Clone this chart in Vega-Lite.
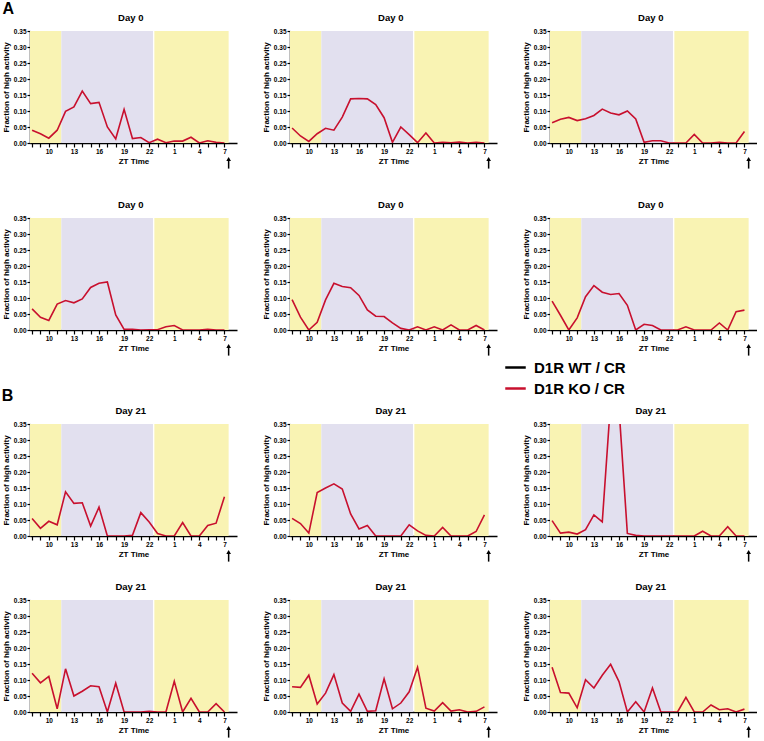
{
"$schema":"https://vega.github.io/schema/vega-lite/v6.json",
"padding":{"left":1,"top":1,"right":0,"bottom":0},
"config":{"view":{"stroke":null},"font":"Liberation Sans",
"axis":{"grid":false,"domainColor":"#000","domainWidth":1.5,"tickColor":"#000","tickWidth":1.2,"labelFont":"Liberation Sans","labelFontSize":6.5,"labelFontWeight":"bold","labelColor":"#000","labelPadding":1,"titleFont":"Liberation Sans","titleFontSize":8,"titleFontWeight":"bold","titleColor":"#000","zindex":1,"titlePadding":3,"labelOverlap":false,"labelFlush":false},
"text":{"font":"Liberation Sans","fontWeight":"bold","color":"#000","align":"center","baseline":"alphabetic"},
"legend":{"orient":"none","legendX":474,"legendY":325,"symbolType":"stroke","symbolSize":420,"symbolStrokeWidth":2.5,"labelFontSize":15,"labelFontWeight":"bold","labelColor":"#000","labelFont":"Liberation Sans","rowPadding":1,"labelOffset":7,"padding":0}},
"datasets":{
"bg":[{"x0":7.75,"x1":11.5,"phase":"light"},{"x0":11.5,"x1":22.45,"phase":"dark"},{"x0":22.62,"x1":31.5,"phase":"light"}],
"act":[
{"p":1,"h":8,"v":0.04},{"p":1,"h":9,"v":0.029},{"p":1,"h":10,"v":0.015},{"p":1,"h":11,"v":0.04},{"p":1,"h":12,"v":0.099},{"p":1,"h":13,"v":0.113},{"p":1,"h":14,"v":0.162},{"p":1,"h":15,"v":0.123},{"p":1,"h":16,"v":0.127},{"p":1,"h":17,"v":0.05},{"p":1,"h":18,"v":0.013},{"p":1,"h":19,"v":0.105},{"p":1,"h":20,"v":0.014},{"p":1,"h":21,"v":0.017},{"p":1,"h":22,"v":0.001},{"p":1,"h":23,"v":0.012},{"p":1,"h":24,"v":0.001},{"p":1,"h":25,"v":0.006},{"p":1,"h":26,"v":0.006},{"p":1,"h":27,"v":0.018},{"p":1,"h":28,"v":0},{"p":1,"h":29,"v":0.007},{"p":1,"h":30,"v":0.002},{"p":1,"h":31,"v":0},
{"p":2,"h":8,"v":0.047},{"p":2,"h":9,"v":0.022},{"p":2,"h":10,"v":0.005},{"p":2,"h":11,"v":0.029},{"p":2,"h":12,"v":0.046},{"p":2,"h":13,"v":0.04},{"p":2,"h":14,"v":0.081},{"p":2,"h":15,"v":0.138},{"p":2,"h":16,"v":0.139},{"p":2,"h":17,"v":0.138},{"p":2,"h":18,"v":0.12},{"p":2,"h":19,"v":0.079},{"p":2,"h":20,"v":0.002},{"p":2,"h":21,"v":0.05},{"p":2,"h":22,"v":0.026},{"p":2,"h":23,"v":0.001},{"p":2,"h":24,"v":0.031},{"p":2,"h":25,"v":0},{"p":2,"h":26,"v":0.002},{"p":2,"h":27,"v":0.001},{"p":2,"h":28,"v":0.003},{"p":2,"h":29,"v":0},{"p":2,"h":30,"v":0.002},{"p":2,"h":31,"v":0},
{"p":3,"h":8,"v":0.063},{"p":3,"h":9,"v":0.074},{"p":3,"h":10,"v":0.08},{"p":3,"h":11,"v":0.07},{"p":3,"h":12,"v":0.076},{"p":3,"h":13,"v":0.086},{"p":3,"h":14,"v":0.106},{"p":3,"h":15,"v":0.094},{"p":3,"h":16,"v":0.088},{"p":3,"h":17,"v":0.1},{"p":3,"h":18,"v":0.075},{"p":3,"h":19,"v":0.002},{"p":3,"h":20,"v":0.007},{"p":3,"h":21,"v":0.007},{"p":3,"h":22,"v":0},{"p":3,"h":23,"v":0},{"p":3,"h":24,"v":0},{"p":3,"h":25,"v":0.027},{"p":3,"h":26,"v":0},{"p":3,"h":27,"v":0},{"p":3,"h":28,"v":0.002},{"p":3,"h":29,"v":0},{"p":3,"h":30,"v":0},{"p":3,"h":31,"v":0.036},
{"p":4,"h":8,"v":0.066},{"p":4,"h":9,"v":0.04},{"p":4,"h":10,"v":0.03},{"p":4,"h":11,"v":0.081},{"p":4,"h":12,"v":0.092},{"p":4,"h":13,"v":0.085},{"p":4,"h":14,"v":0.097},{"p":4,"h":15,"v":0.133},{"p":4,"h":16,"v":0.146},{"p":4,"h":17,"v":0.15},{"p":4,"h":18,"v":0.047},{"p":4,"h":19,"v":0.002},{"p":4,"h":20,"v":0.002},{"p":4,"h":21,"v":0},{"p":4,"h":22,"v":0.001},{"p":4,"h":23,"v":0.001},{"p":4,"h":24,"v":0.01},{"p":4,"h":25,"v":0.014},{"p":4,"h":26,"v":0},{"p":4,"h":27,"v":0},{"p":4,"h":28,"v":0},{"p":4,"h":29,"v":0.002},{"p":4,"h":30,"v":0},{"p":4,"h":31,"v":0},
{"p":5,"h":8,"v":0.095},{"p":5,"h":9,"v":0.04},{"p":5,"h":10,"v":0},{"p":5,"h":11,"v":0.024},{"p":5,"h":12,"v":0.094},{"p":5,"h":13,"v":0.146},{"p":5,"h":14,"v":0.136},{"p":5,"h":15,"v":0.132},{"p":5,"h":16,"v":0.108},{"p":5,"h":17,"v":0.063},{"p":5,"h":18,"v":0.043},{"p":5,"h":19,"v":0.042},{"p":5,"h":20,"v":0.022},{"p":5,"h":21,"v":0.005},{"p":5,"h":22,"v":0},{"p":5,"h":23,"v":0.01},{"p":5,"h":24,"v":0},{"p":5,"h":25,"v":0.01},{"p":5,"h":26,"v":0},{"p":5,"h":27,"v":0.016},{"p":5,"h":28,"v":0},{"p":5,"h":29,"v":0},{"p":5,"h":30,"v":0.014},{"p":5,"h":31,"v":0},
{"p":6,"h":8,"v":0.09},{"p":6,"h":9,"v":0.046},{"p":6,"h":10,"v":0},{"p":6,"h":11,"v":0.038},{"p":6,"h":12,"v":0.104},{"p":6,"h":13,"v":0.139},{"p":6,"h":14,"v":0.118},{"p":6,"h":15,"v":0.111},{"p":6,"h":16,"v":0.114},{"p":6,"h":17,"v":0.077},{"p":6,"h":18,"v":0},{"p":6,"h":19,"v":0.018},{"p":6,"h":20,"v":0.014},{"p":6,"h":21,"v":0},{"p":6,"h":22,"v":0},{"p":6,"h":23,"v":0},{"p":6,"h":24,"v":0.01},{"p":6,"h":25,"v":0},{"p":6,"h":26,"v":0},{"p":6,"h":27,"v":0},{"p":6,"h":28,"v":0.022},{"p":6,"h":29,"v":0},{"p":6,"h":30,"v":0.057},{"p":6,"h":31,"v":0.062},
{"p":7,"h":8,"v":0.055},{"p":7,"h":9,"v":0.024},{"p":7,"h":10,"v":0.046},{"p":7,"h":11,"v":0.035},{"p":7,"h":12,"v":0.138},{"p":7,"h":13,"v":0.102},{"p":7,"h":14,"v":0.104},{"p":7,"h":15,"v":0.031},{"p":7,"h":16,"v":0.09},{"p":7,"h":17,"v":0},{"p":7,"h":18,"v":0},{"p":7,"h":19,"v":0},{"p":7,"h":20,"v":0.002},{"p":7,"h":21,"v":0.073},{"p":7,"h":22,"v":0.044},{"p":7,"h":23,"v":0.008},{"p":7,"h":24,"v":0},{"p":7,"h":25,"v":0},{"p":7,"h":26,"v":0.042},{"p":7,"h":27,"v":0},{"p":7,"h":28,"v":0},{"p":7,"h":29,"v":0.033},{"p":7,"h":30,"v":0.04},{"p":7,"h":31,"v":0.123},
{"p":8,"h":8,"v":0.055},{"p":8,"h":9,"v":0.039},{"p":8,"h":10,"v":0.009},{"p":8,"h":11,"v":0.136},{"p":8,"h":12,"v":0.15},{"p":8,"h":13,"v":0.163},{"p":8,"h":14,"v":0.147},{"p":8,"h":15,"v":0.069},{"p":8,"h":16,"v":0.022},{"p":8,"h":17,"v":0.033},{"p":8,"h":18,"v":0},{"p":8,"h":19,"v":0},{"p":8,"h":20,"v":0},{"p":8,"h":21,"v":0},{"p":8,"h":22,"v":0.035},{"p":8,"h":23,"v":0.016},{"p":8,"h":24,"v":0.002},{"p":8,"h":25,"v":0},{"p":8,"h":26,"v":0.027},{"p":8,"h":27,"v":0},{"p":8,"h":28,"v":0},{"p":8,"h":29,"v":0},{"p":8,"h":30,"v":0.014},{"p":8,"h":31,"v":0.066},
{"p":9,"h":8,"v":0.048},{"p":9,"h":9,"v":0.009},{"p":9,"h":10,"v":0.012},{"p":9,"h":11,"v":0.006},{"p":9,"h":12,"v":0.02},{"p":9,"h":13,"v":0.066},{"p":9,"h":14,"v":0.044},{"p":9,"h":15,"v":0.42},{"p":9,"h":16,"v":0.4},{"p":9,"h":17,"v":0.008},{"p":9,"h":18,"v":0.002},{"p":9,"h":19,"v":0},{"p":9,"h":20,"v":0},{"p":9,"h":21,"v":0},{"p":9,"h":22,"v":0},{"p":9,"h":23,"v":0},{"p":9,"h":24,"v":0},{"p":9,"h":25,"v":0},{"p":9,"h":26,"v":0.015},{"p":9,"h":27,"v":0},{"p":9,"h":28,"v":0},{"p":9,"h":29,"v":0.029},{"p":9,"h":30,"v":0},{"p":9,"h":31,"v":0},
{"p":10,"h":8,"v":0.121},{"p":10,"h":9,"v":0.091},{"p":10,"h":10,"v":0.111},{"p":10,"h":11,"v":0.01},{"p":10,"h":12,"v":0.135},{"p":10,"h":13,"v":0.05},{"p":10,"h":14,"v":0.065},{"p":10,"h":15,"v":0.082},{"p":10,"h":16,"v":0.079},{"p":10,"h":17,"v":0},{"p":10,"h":18,"v":0.09},{"p":10,"h":19,"v":0},{"p":10,"h":20,"v":0},{"p":10,"h":21,"v":0},{"p":10,"h":22,"v":0.002},{"p":10,"h":23,"v":0},{"p":10,"h":24,"v":0},{"p":10,"h":25,"v":0.096},{"p":10,"h":26,"v":0},{"p":10,"h":27,"v":0.043},{"p":10,"h":28,"v":0},{"p":10,"h":29,"v":0},{"p":10,"h":30,"v":0.026},{"p":10,"h":31,"v":0},
{"p":11,"h":8,"v":0.079},{"p":11,"h":9,"v":0.077},{"p":11,"h":10,"v":0.115},{"p":11,"h":11,"v":0.025},{"p":11,"h":12,"v":0.059},{"p":11,"h":13,"v":0.117},{"p":11,"h":14,"v":0.028},{"p":11,"h":15,"v":0.002},{"p":11,"h":16,"v":0.056},{"p":11,"h":17,"v":0.002},{"p":11,"h":18,"v":0.004},{"p":11,"h":19,"v":0.104},{"p":11,"h":20,"v":0.01},{"p":11,"h":21,"v":0.028},{"p":11,"h":22,"v":0.063},{"p":11,"h":23,"v":0.14},{"p":11,"h":24,"v":0.012},{"p":11,"h":25,"v":0.003},{"p":11,"h":26,"v":0.029},{"p":11,"h":27,"v":0.003},{"p":11,"h":28,"v":0.007},{"p":11,"h":29,"v":0},{"p":11,"h":30,"v":0.002},{"p":11,"h":31,"v":0.016},
{"p":12,"h":8,"v":0.14},{"p":12,"h":9,"v":0.061},{"p":12,"h":10,"v":0.059},{"p":12,"h":11,"v":0.013},{"p":12,"h":12,"v":0.101},{"p":12,"h":13,"v":0.075},{"p":12,"h":14,"v":0.115},{"p":12,"h":15,"v":0.149},{"p":12,"h":16,"v":0.095},{"p":12,"h":17,"v":0},{"p":12,"h":18,"v":0.032},{"p":12,"h":19,"v":0},{"p":12,"h":20,"v":0.075},{"p":12,"h":21,"v":0},{"p":12,"h":22,"v":0},{"p":12,"h":23,"v":0},{"p":12,"h":24,"v":0.046},{"p":12,"h":25,"v":0},{"p":12,"h":26,"v":0},{"p":12,"h":27,"v":0.022},{"p":12,"h":28,"v":0.007},{"p":12,"h":29,"v":0.01},{"p":12,"h":30,"v":0},{"p":12,"h":31,"v":0.009}
]},
"spacing":31,
"vconcat":[
{"spacing":29,"vconcat":[
{"spacing":53,"bounds":"flush","hconcat":[
{"width":207,"height":112,"resolve":{"axis":{"x":"independent","y":"independent"}},"layer":[
{"data":{"name":"bg"},"mark":"rect","encoding":{"x":{"field":"x0","type":"quantitative","axis":null},"x2":{"field":"x1"},"y":{"datum":0,"type":"quantitative","axis":null},"y2":{"datum":0.35},"fill":{"field":"phase","type":"nominal","scale":{"domain":["light","dark"],"range":["#f9f3b3","#e2e0ef"]},"legend":null}}},
{"data":{"name":"act"},"transform":[{"filter":"datum.p==1"}],"mark":{"type":"line","clip":true,"strokeWidth":1.6},"encoding":{"x":{"field":"h","type":"quantitative","scale":{"domain":[7.75,32.5],"nice":false,"zero":false},"axis":{"orient":"bottom","values":[8,9,10,11,12,13,14,15,16,17,18,19,20,21,22,23,24,25,26,27,28,29,30,31],"labelExpr":"(datum.value-10)%3==0 ? ''+(datum.value%24) : ''","title":"ZT Time","tickSize":4}},"y":{"field":"v","type":"quantitative","scale":{"domain":[0,0.35],"nice":false},"axis":{"orient":"left","values":[0,0.05,0.1,0.15,0.2,0.25,0.3,0.35],"format":".2f","title":"Fraction of high activity","tickSize":3}},"color":{"datum":"D1R KO / CR","type":"nominal","scale":{"domain":["D1R WT / CR","D1R KO / CR"],"range":["#000000","#c8102e"]},"legend":{"title":null}}}},
{"data":{"values":[{}]},"mark":{"type":"rule","color":"#000","strokeWidth":1.5},"encoding":{"x":{"datum":31.5,"type":"quantitative","axis":null},"y":{"datum":-0.052,"type":"quantitative","axis":null},"y2":{"datum":-0.08}}},
{"data":{"values":[{}]},"mark":{"type":"point","shape":"triangle-up","filled":true,"size":22,"color":"#000","opacity":1},"encoding":{"x":{"datum":31.5,"type":"quantitative","axis":null},"y":{"datum":-0.05,"type":"quantitative","axis":null}}},
{"data":{"values":[{}]},"mark":{"type":"text","text":"Day 0","fontSize":9.5},"encoding":{"x":{"datum":19.8,"type":"quantitative","axis":null},"y":{"datum":0.382,"type":"quantitative","axis":null}}},
{"data":{"values":[{}]},"mark":{"type":"text","text":"A","fontSize":16},"encoding":{"x":{"datum":5.15,"type":"quantitative","axis":null},"y":{"datum":0.403,"type":"quantitative","axis":null}}}
]},
{"width":207,"height":112,"resolve":{"axis":{"x":"independent","y":"independent"}},"layer":[
{"data":{"name":"bg"},"mark":"rect","encoding":{"x":{"field":"x0","type":"quantitative","axis":null},"x2":{"field":"x1"},"y":{"datum":0,"type":"quantitative","axis":null},"y2":{"datum":0.35},"fill":{"field":"phase","type":"nominal","scale":{"domain":["light","dark"],"range":["#f9f3b3","#e2e0ef"]},"legend":null}}},
{"data":{"name":"act"},"transform":[{"filter":"datum.p==2"}],"mark":{"type":"line","clip":true,"strokeWidth":1.6},"encoding":{"x":{"field":"h","type":"quantitative","scale":{"domain":[7.75,32.5],"nice":false,"zero":false},"axis":{"orient":"bottom","values":[8,9,10,11,12,13,14,15,16,17,18,19,20,21,22,23,24,25,26,27,28,29,30,31],"labelExpr":"(datum.value-10)%3==0 ? ''+(datum.value%24) : ''","title":"ZT Time","tickSize":4}},"y":{"field":"v","type":"quantitative","scale":{"domain":[0,0.35],"nice":false},"axis":{"orient":"left","values":[0,0.05,0.1,0.15,0.2,0.25,0.3,0.35],"format":".2f","title":"Fraction of high activity","tickSize":3}},"color":{"datum":"D1R KO / CR","type":"nominal","scale":{"domain":["D1R WT / CR","D1R KO / CR"],"range":["#000000","#c8102e"]},"legend":{"title":null}}}},
{"data":{"values":[{}]},"mark":{"type":"rule","color":"#000","strokeWidth":1.5},"encoding":{"x":{"datum":31.5,"type":"quantitative","axis":null},"y":{"datum":-0.052,"type":"quantitative","axis":null},"y2":{"datum":-0.08}}},
{"data":{"values":[{}]},"mark":{"type":"point","shape":"triangle-up","filled":true,"size":22,"color":"#000","opacity":1},"encoding":{"x":{"datum":31.5,"type":"quantitative","axis":null},"y":{"datum":-0.05,"type":"quantitative","axis":null}}},
{"data":{"values":[{}]},"mark":{"type":"text","text":"Day 0","fontSize":9.5},"encoding":{"x":{"datum":19.8,"type":"quantitative","axis":null},"y":{"datum":0.382,"type":"quantitative","axis":null}}}
]},
{"width":207,"height":112,"resolve":{"axis":{"x":"independent","y":"independent"}},"layer":[
{"data":{"name":"bg"},"mark":"rect","encoding":{"x":{"field":"x0","type":"quantitative","axis":null},"x2":{"field":"x1"},"y":{"datum":0,"type":"quantitative","axis":null},"y2":{"datum":0.35},"fill":{"field":"phase","type":"nominal","scale":{"domain":["light","dark"],"range":["#f9f3b3","#e2e0ef"]},"legend":null}}},
{"data":{"name":"act"},"transform":[{"filter":"datum.p==3"}],"mark":{"type":"line","clip":true,"strokeWidth":1.6},"encoding":{"x":{"field":"h","type":"quantitative","scale":{"domain":[7.75,32.5],"nice":false,"zero":false},"axis":{"orient":"bottom","values":[8,9,10,11,12,13,14,15,16,17,18,19,20,21,22,23,24,25,26,27,28,29,30,31],"labelExpr":"(datum.value-10)%3==0 ? ''+(datum.value%24) : ''","title":"ZT Time","tickSize":4}},"y":{"field":"v","type":"quantitative","scale":{"domain":[0,0.35],"nice":false},"axis":{"orient":"left","values":[0,0.05,0.1,0.15,0.2,0.25,0.3,0.35],"format":".2f","title":"Fraction of high activity","tickSize":3}},"color":{"datum":"D1R KO / CR","type":"nominal","scale":{"domain":["D1R WT / CR","D1R KO / CR"],"range":["#000000","#c8102e"]},"legend":{"title":null}}}},
{"data":{"values":[{}]},"mark":{"type":"rule","color":"#000","strokeWidth":1.5},"encoding":{"x":{"datum":31.5,"type":"quantitative","axis":null},"y":{"datum":-0.052,"type":"quantitative","axis":null},"y2":{"datum":-0.08}}},
{"data":{"values":[{}]},"mark":{"type":"point","shape":"triangle-up","filled":true,"size":22,"color":"#000","opacity":1},"encoding":{"x":{"datum":31.5,"type":"quantitative","axis":null},"y":{"datum":-0.05,"type":"quantitative","axis":null}}},
{"data":{"values":[{}]},"mark":{"type":"text","text":"Day 0","fontSize":9.5},"encoding":{"x":{"datum":19.8,"type":"quantitative","axis":null},"y":{"datum":0.382,"type":"quantitative","axis":null}}}
]}
]},
{"spacing":53,"bounds":"flush","hconcat":[
{"width":207,"height":112,"resolve":{"axis":{"x":"independent","y":"independent"}},"layer":[
{"data":{"name":"bg"},"mark":"rect","encoding":{"x":{"field":"x0","type":"quantitative","axis":null},"x2":{"field":"x1"},"y":{"datum":0,"type":"quantitative","axis":null},"y2":{"datum":0.35},"fill":{"field":"phase","type":"nominal","scale":{"domain":["light","dark"],"range":["#f9f3b3","#e2e0ef"]},"legend":null}}},
{"data":{"name":"act"},"transform":[{"filter":"datum.p==4"}],"mark":{"type":"line","clip":true,"strokeWidth":1.6},"encoding":{"x":{"field":"h","type":"quantitative","scale":{"domain":[7.75,32.5],"nice":false,"zero":false},"axis":{"orient":"bottom","values":[8,9,10,11,12,13,14,15,16,17,18,19,20,21,22,23,24,25,26,27,28,29,30,31],"labelExpr":"(datum.value-10)%3==0 ? ''+(datum.value%24) : ''","title":"ZT Time","tickSize":4}},"y":{"field":"v","type":"quantitative","scale":{"domain":[0,0.35],"nice":false},"axis":{"orient":"left","values":[0,0.05,0.1,0.15,0.2,0.25,0.3,0.35],"format":".2f","title":"Fraction of high activity","tickSize":3}},"color":{"datum":"D1R KO / CR","type":"nominal","scale":{"domain":["D1R WT / CR","D1R KO / CR"],"range":["#000000","#c8102e"]},"legend":{"title":null}}}},
{"data":{"values":[{}]},"mark":{"type":"rule","color":"#000","strokeWidth":1.5},"encoding":{"x":{"datum":31.5,"type":"quantitative","axis":null},"y":{"datum":-0.052,"type":"quantitative","axis":null},"y2":{"datum":-0.08}}},
{"data":{"values":[{}]},"mark":{"type":"point","shape":"triangle-up","filled":true,"size":22,"color":"#000","opacity":1},"encoding":{"x":{"datum":31.5,"type":"quantitative","axis":null},"y":{"datum":-0.05,"type":"quantitative","axis":null}}},
{"data":{"values":[{}]},"mark":{"type":"text","text":"Day 0","fontSize":9.5},"encoding":{"x":{"datum":19.8,"type":"quantitative","axis":null},"y":{"datum":0.382,"type":"quantitative","axis":null}}}
]},
{"width":207,"height":112,"resolve":{"axis":{"x":"independent","y":"independent"}},"layer":[
{"data":{"name":"bg"},"mark":"rect","encoding":{"x":{"field":"x0","type":"quantitative","axis":null},"x2":{"field":"x1"},"y":{"datum":0,"type":"quantitative","axis":null},"y2":{"datum":0.35},"fill":{"field":"phase","type":"nominal","scale":{"domain":["light","dark"],"range":["#f9f3b3","#e2e0ef"]},"legend":null}}},
{"data":{"name":"act"},"transform":[{"filter":"datum.p==5"}],"mark":{"type":"line","clip":true,"strokeWidth":1.6},"encoding":{"x":{"field":"h","type":"quantitative","scale":{"domain":[7.75,32.5],"nice":false,"zero":false},"axis":{"orient":"bottom","values":[8,9,10,11,12,13,14,15,16,17,18,19,20,21,22,23,24,25,26,27,28,29,30,31],"labelExpr":"(datum.value-10)%3==0 ? ''+(datum.value%24) : ''","title":"ZT Time","tickSize":4}},"y":{"field":"v","type":"quantitative","scale":{"domain":[0,0.35],"nice":false},"axis":{"orient":"left","values":[0,0.05,0.1,0.15,0.2,0.25,0.3,0.35],"format":".2f","title":"Fraction of high activity","tickSize":3}},"color":{"datum":"D1R KO / CR","type":"nominal","scale":{"domain":["D1R WT / CR","D1R KO / CR"],"range":["#000000","#c8102e"]},"legend":{"title":null}}}},
{"data":{"values":[{}]},"mark":{"type":"rule","color":"#000","strokeWidth":1.5},"encoding":{"x":{"datum":31.5,"type":"quantitative","axis":null},"y":{"datum":-0.052,"type":"quantitative","axis":null},"y2":{"datum":-0.08}}},
{"data":{"values":[{}]},"mark":{"type":"point","shape":"triangle-up","filled":true,"size":22,"color":"#000","opacity":1},"encoding":{"x":{"datum":31.5,"type":"quantitative","axis":null},"y":{"datum":-0.05,"type":"quantitative","axis":null}}},
{"data":{"values":[{}]},"mark":{"type":"text","text":"Day 0","fontSize":9.5},"encoding":{"x":{"datum":19.8,"type":"quantitative","axis":null},"y":{"datum":0.382,"type":"quantitative","axis":null}}}
]},
{"width":207,"height":112,"resolve":{"axis":{"x":"independent","y":"independent"}},"layer":[
{"data":{"name":"bg"},"mark":"rect","encoding":{"x":{"field":"x0","type":"quantitative","axis":null},"x2":{"field":"x1"},"y":{"datum":0,"type":"quantitative","axis":null},"y2":{"datum":0.35},"fill":{"field":"phase","type":"nominal","scale":{"domain":["light","dark"],"range":["#f9f3b3","#e2e0ef"]},"legend":null}}},
{"data":{"name":"act"},"transform":[{"filter":"datum.p==6"}],"mark":{"type":"line","clip":true,"strokeWidth":1.6},"encoding":{"x":{"field":"h","type":"quantitative","scale":{"domain":[7.75,32.5],"nice":false,"zero":false},"axis":{"orient":"bottom","values":[8,9,10,11,12,13,14,15,16,17,18,19,20,21,22,23,24,25,26,27,28,29,30,31],"labelExpr":"(datum.value-10)%3==0 ? ''+(datum.value%24) : ''","title":"ZT Time","tickSize":4}},"y":{"field":"v","type":"quantitative","scale":{"domain":[0,0.35],"nice":false},"axis":{"orient":"left","values":[0,0.05,0.1,0.15,0.2,0.25,0.3,0.35],"format":".2f","title":"Fraction of high activity","tickSize":3}},"color":{"datum":"D1R KO / CR","type":"nominal","scale":{"domain":["D1R WT / CR","D1R KO / CR"],"range":["#000000","#c8102e"]},"legend":{"title":null}}}},
{"data":{"values":[{}]},"mark":{"type":"rule","color":"#000","strokeWidth":1.5},"encoding":{"x":{"datum":31.5,"type":"quantitative","axis":null},"y":{"datum":-0.052,"type":"quantitative","axis":null},"y2":{"datum":-0.08}}},
{"data":{"values":[{}]},"mark":{"type":"point","shape":"triangle-up","filled":true,"size":22,"color":"#000","opacity":1},"encoding":{"x":{"datum":31.5,"type":"quantitative","axis":null},"y":{"datum":-0.05,"type":"quantitative","axis":null}}},
{"data":{"values":[{}]},"mark":{"type":"text","text":"Day 0","fontSize":9.5},"encoding":{"x":{"datum":19.8,"type":"quantitative","axis":null},"y":{"datum":0.382,"type":"quantitative","axis":null}}}
]}
]}
]},
{"spacing":18,"vconcat":[
{"spacing":53,"bounds":"flush","hconcat":[
{"width":207,"height":112,"resolve":{"axis":{"x":"independent","y":"independent"}},"layer":[
{"data":{"name":"bg"},"mark":"rect","encoding":{"x":{"field":"x0","type":"quantitative","axis":null},"x2":{"field":"x1"},"y":{"datum":0,"type":"quantitative","axis":null},"y2":{"datum":0.35},"fill":{"field":"phase","type":"nominal","scale":{"domain":["light","dark"],"range":["#f9f3b3","#e2e0ef"]},"legend":null}}},
{"data":{"name":"act"},"transform":[{"filter":"datum.p==7"}],"mark":{"type":"line","clip":true,"strokeWidth":1.6},"encoding":{"x":{"field":"h","type":"quantitative","scale":{"domain":[7.75,32.5],"nice":false,"zero":false},"axis":{"orient":"bottom","values":[8,9,10,11,12,13,14,15,16,17,18,19,20,21,22,23,24,25,26,27,28,29,30,31],"labelExpr":"(datum.value-10)%3==0 ? ''+(datum.value%24) : ''","title":"ZT Time","tickSize":4}},"y":{"field":"v","type":"quantitative","scale":{"domain":[0,0.35],"nice":false},"axis":{"orient":"left","values":[0,0.05,0.1,0.15,0.2,0.25,0.3,0.35],"format":".2f","title":"Fraction of high activity","tickSize":3}},"color":{"datum":"D1R KO / CR","type":"nominal","scale":{"domain":["D1R WT / CR","D1R KO / CR"],"range":["#000000","#c8102e"]},"legend":{"title":null}}}},
{"data":{"values":[{}]},"mark":{"type":"rule","color":"#000","strokeWidth":1.5},"encoding":{"x":{"datum":31.5,"type":"quantitative","axis":null},"y":{"datum":-0.052,"type":"quantitative","axis":null},"y2":{"datum":-0.08}}},
{"data":{"values":[{}]},"mark":{"type":"point","shape":"triangle-up","filled":true,"size":22,"color":"#000","opacity":1},"encoding":{"x":{"datum":31.5,"type":"quantitative","axis":null},"y":{"datum":-0.05,"type":"quantitative","axis":null}}},
{"data":{"values":[{}]},"mark":{"type":"text","text":"Day 21","fontSize":9.5},"encoding":{"x":{"datum":19.8,"type":"quantitative","axis":null},"y":{"datum":0.382,"type":"quantitative","axis":null}}},
{"data":{"values":[{}]},"mark":{"type":"text","text":"B","fontSize":16},"encoding":{"x":{"datum":5.06,"type":"quantitative","axis":null},"y":{"datum":0.421,"type":"quantitative","axis":null}}}
]},
{"width":207,"height":112,"resolve":{"axis":{"x":"independent","y":"independent"}},"layer":[
{"data":{"name":"bg"},"mark":"rect","encoding":{"x":{"field":"x0","type":"quantitative","axis":null},"x2":{"field":"x1"},"y":{"datum":0,"type":"quantitative","axis":null},"y2":{"datum":0.35},"fill":{"field":"phase","type":"nominal","scale":{"domain":["light","dark"],"range":["#f9f3b3","#e2e0ef"]},"legend":null}}},
{"data":{"name":"act"},"transform":[{"filter":"datum.p==8"}],"mark":{"type":"line","clip":true,"strokeWidth":1.6},"encoding":{"x":{"field":"h","type":"quantitative","scale":{"domain":[7.75,32.5],"nice":false,"zero":false},"axis":{"orient":"bottom","values":[8,9,10,11,12,13,14,15,16,17,18,19,20,21,22,23,24,25,26,27,28,29,30,31],"labelExpr":"(datum.value-10)%3==0 ? ''+(datum.value%24) : ''","title":"ZT Time","tickSize":4}},"y":{"field":"v","type":"quantitative","scale":{"domain":[0,0.35],"nice":false},"axis":{"orient":"left","values":[0,0.05,0.1,0.15,0.2,0.25,0.3,0.35],"format":".2f","title":"Fraction of high activity","tickSize":3}},"color":{"datum":"D1R KO / CR","type":"nominal","scale":{"domain":["D1R WT / CR","D1R KO / CR"],"range":["#000000","#c8102e"]},"legend":{"title":null}}}},
{"data":{"values":[{}]},"mark":{"type":"rule","color":"#000","strokeWidth":1.5},"encoding":{"x":{"datum":31.5,"type":"quantitative","axis":null},"y":{"datum":-0.052,"type":"quantitative","axis":null},"y2":{"datum":-0.08}}},
{"data":{"values":[{}]},"mark":{"type":"point","shape":"triangle-up","filled":true,"size":22,"color":"#000","opacity":1},"encoding":{"x":{"datum":31.5,"type":"quantitative","axis":null},"y":{"datum":-0.05,"type":"quantitative","axis":null}}},
{"data":{"values":[{}]},"mark":{"type":"text","text":"Day 21","fontSize":9.5},"encoding":{"x":{"datum":19.8,"type":"quantitative","axis":null},"y":{"datum":0.382,"type":"quantitative","axis":null}}}
]},
{"width":207,"height":112,"resolve":{"axis":{"x":"independent","y":"independent"}},"layer":[
{"data":{"name":"bg"},"mark":"rect","encoding":{"x":{"field":"x0","type":"quantitative","axis":null},"x2":{"field":"x1"},"y":{"datum":0,"type":"quantitative","axis":null},"y2":{"datum":0.35},"fill":{"field":"phase","type":"nominal","scale":{"domain":["light","dark"],"range":["#f9f3b3","#e2e0ef"]},"legend":null}}},
{"data":{"name":"act"},"transform":[{"filter":"datum.p==9"}],"mark":{"type":"line","clip":true,"strokeWidth":1.6},"encoding":{"x":{"field":"h","type":"quantitative","scale":{"domain":[7.75,32.5],"nice":false,"zero":false},"axis":{"orient":"bottom","values":[8,9,10,11,12,13,14,15,16,17,18,19,20,21,22,23,24,25,26,27,28,29,30,31],"labelExpr":"(datum.value-10)%3==0 ? ''+(datum.value%24) : ''","title":"ZT Time","tickSize":4}},"y":{"field":"v","type":"quantitative","scale":{"domain":[0,0.35],"nice":false},"axis":{"orient":"left","values":[0,0.05,0.1,0.15,0.2,0.25,0.3,0.35],"format":".2f","title":"Fraction of high activity","tickSize":3}},"color":{"datum":"D1R KO / CR","type":"nominal","scale":{"domain":["D1R WT / CR","D1R KO / CR"],"range":["#000000","#c8102e"]},"legend":{"title":null}}}},
{"data":{"values":[{}]},"mark":{"type":"rule","color":"#000","strokeWidth":1.5},"encoding":{"x":{"datum":31.5,"type":"quantitative","axis":null},"y":{"datum":-0.052,"type":"quantitative","axis":null},"y2":{"datum":-0.08}}},
{"data":{"values":[{}]},"mark":{"type":"point","shape":"triangle-up","filled":true,"size":22,"color":"#000","opacity":1},"encoding":{"x":{"datum":31.5,"type":"quantitative","axis":null},"y":{"datum":-0.05,"type":"quantitative","axis":null}}},
{"data":{"values":[{}]},"mark":{"type":"text","text":"Day 21","fontSize":9.5},"encoding":{"x":{"datum":19.8,"type":"quantitative","axis":null},"y":{"datum":0.382,"type":"quantitative","axis":null}}}
]}
]},
{"spacing":53,"bounds":"flush","hconcat":[
{"width":207,"height":112,"resolve":{"axis":{"x":"independent","y":"independent"}},"layer":[
{"data":{"name":"bg"},"mark":"rect","encoding":{"x":{"field":"x0","type":"quantitative","axis":null},"x2":{"field":"x1"},"y":{"datum":0,"type":"quantitative","axis":null},"y2":{"datum":0.35},"fill":{"field":"phase","type":"nominal","scale":{"domain":["light","dark"],"range":["#f9f3b3","#e2e0ef"]},"legend":null}}},
{"data":{"name":"act"},"transform":[{"filter":"datum.p==10"}],"mark":{"type":"line","clip":true,"strokeWidth":1.6},"encoding":{"x":{"field":"h","type":"quantitative","scale":{"domain":[7.75,32.5],"nice":false,"zero":false},"axis":{"orient":"bottom","values":[8,9,10,11,12,13,14,15,16,17,18,19,20,21,22,23,24,25,26,27,28,29,30,31],"labelExpr":"(datum.value-10)%3==0 ? ''+(datum.value%24) : ''","title":"ZT Time","tickSize":4}},"y":{"field":"v","type":"quantitative","scale":{"domain":[0,0.35],"nice":false},"axis":{"orient":"left","values":[0,0.05,0.1,0.15,0.2,0.25,0.3,0.35],"format":".2f","title":"Fraction of high activity","tickSize":3}},"color":{"datum":"D1R KO / CR","type":"nominal","scale":{"domain":["D1R WT / CR","D1R KO / CR"],"range":["#000000","#c8102e"]},"legend":{"title":null}}}},
{"data":{"values":[{}]},"mark":{"type":"rule","color":"#000","strokeWidth":1.5},"encoding":{"x":{"datum":31.5,"type":"quantitative","axis":null},"y":{"datum":-0.052,"type":"quantitative","axis":null},"y2":{"datum":-0.08}}},
{"data":{"values":[{}]},"mark":{"type":"point","shape":"triangle-up","filled":true,"size":22,"color":"#000","opacity":1},"encoding":{"x":{"datum":31.5,"type":"quantitative","axis":null},"y":{"datum":-0.05,"type":"quantitative","axis":null}}},
{"data":{"values":[{}]},"mark":{"type":"text","text":"Day 21","fontSize":9.5},"encoding":{"x":{"datum":19.8,"type":"quantitative","axis":null},"y":{"datum":0.382,"type":"quantitative","axis":null}}}
]},
{"width":207,"height":112,"resolve":{"axis":{"x":"independent","y":"independent"}},"layer":[
{"data":{"name":"bg"},"mark":"rect","encoding":{"x":{"field":"x0","type":"quantitative","axis":null},"x2":{"field":"x1"},"y":{"datum":0,"type":"quantitative","axis":null},"y2":{"datum":0.35},"fill":{"field":"phase","type":"nominal","scale":{"domain":["light","dark"],"range":["#f9f3b3","#e2e0ef"]},"legend":null}}},
{"data":{"name":"act"},"transform":[{"filter":"datum.p==11"}],"mark":{"type":"line","clip":true,"strokeWidth":1.6},"encoding":{"x":{"field":"h","type":"quantitative","scale":{"domain":[7.75,32.5],"nice":false,"zero":false},"axis":{"orient":"bottom","values":[8,9,10,11,12,13,14,15,16,17,18,19,20,21,22,23,24,25,26,27,28,29,30,31],"labelExpr":"(datum.value-10)%3==0 ? ''+(datum.value%24) : ''","title":"ZT Time","tickSize":4}},"y":{"field":"v","type":"quantitative","scale":{"domain":[0,0.35],"nice":false},"axis":{"orient":"left","values":[0,0.05,0.1,0.15,0.2,0.25,0.3,0.35],"format":".2f","title":"Fraction of high activity","tickSize":3}},"color":{"datum":"D1R KO / CR","type":"nominal","scale":{"domain":["D1R WT / CR","D1R KO / CR"],"range":["#000000","#c8102e"]},"legend":{"title":null}}}},
{"data":{"values":[{}]},"mark":{"type":"rule","color":"#000","strokeWidth":1.5},"encoding":{"x":{"datum":31.5,"type":"quantitative","axis":null},"y":{"datum":-0.052,"type":"quantitative","axis":null},"y2":{"datum":-0.08}}},
{"data":{"values":[{}]},"mark":{"type":"point","shape":"triangle-up","filled":true,"size":22,"color":"#000","opacity":1},"encoding":{"x":{"datum":31.5,"type":"quantitative","axis":null},"y":{"datum":-0.05,"type":"quantitative","axis":null}}},
{"data":{"values":[{}]},"mark":{"type":"text","text":"Day 21","fontSize":9.5},"encoding":{"x":{"datum":19.8,"type":"quantitative","axis":null},"y":{"datum":0.382,"type":"quantitative","axis":null}}}
]},
{"width":207,"height":112,"resolve":{"axis":{"x":"independent","y":"independent"}},"layer":[
{"data":{"name":"bg"},"mark":"rect","encoding":{"x":{"field":"x0","type":"quantitative","axis":null},"x2":{"field":"x1"},"y":{"datum":0,"type":"quantitative","axis":null},"y2":{"datum":0.35},"fill":{"field":"phase","type":"nominal","scale":{"domain":["light","dark"],"range":["#f9f3b3","#e2e0ef"]},"legend":null}}},
{"data":{"name":"act"},"transform":[{"filter":"datum.p==12"}],"mark":{"type":"line","clip":true,"strokeWidth":1.6},"encoding":{"x":{"field":"h","type":"quantitative","scale":{"domain":[7.75,32.5],"nice":false,"zero":false},"axis":{"orient":"bottom","values":[8,9,10,11,12,13,14,15,16,17,18,19,20,21,22,23,24,25,26,27,28,29,30,31],"labelExpr":"(datum.value-10)%3==0 ? ''+(datum.value%24) : ''","title":"ZT Time","tickSize":4}},"y":{"field":"v","type":"quantitative","scale":{"domain":[0,0.35],"nice":false},"axis":{"orient":"left","values":[0,0.05,0.1,0.15,0.2,0.25,0.3,0.35],"format":".2f","title":"Fraction of high activity","tickSize":3}},"color":{"datum":"D1R KO / CR","type":"nominal","scale":{"domain":["D1R WT / CR","D1R KO / CR"],"range":["#000000","#c8102e"]},"legend":{"title":null}}}},
{"data":{"values":[{}]},"mark":{"type":"rule","color":"#000","strokeWidth":1.5},"encoding":{"x":{"datum":31.5,"type":"quantitative","axis":null},"y":{"datum":-0.052,"type":"quantitative","axis":null},"y2":{"datum":-0.08}}},
{"data":{"values":[{}]},"mark":{"type":"point","shape":"triangle-up","filled":true,"size":22,"color":"#000","opacity":1},"encoding":{"x":{"datum":31.5,"type":"quantitative","axis":null},"y":{"datum":-0.05,"type":"quantitative","axis":null}}},
{"data":{"values":[{}]},"mark":{"type":"text","text":"Day 21","fontSize":9.5},"encoding":{"x":{"datum":19.8,"type":"quantitative","axis":null},"y":{"datum":0.382,"type":"quantitative","axis":null}}}
]}
]}
]}
]
}
